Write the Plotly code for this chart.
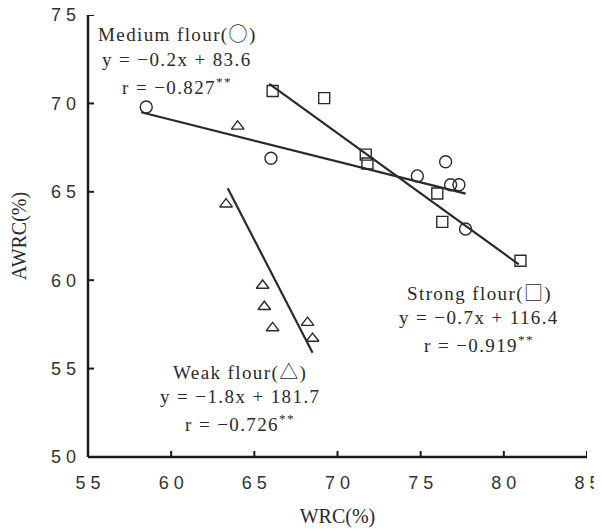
import plotly.graph_objects as go

# Medium flour (circles)
medium_x = [58.5, 66.0, 76.5, 74.8, 76.8, 77.3, 77.7]
medium_y = [69.8, 66.9, 66.7, 65.9, 65.4, 65.4, 62.9]
medium_fit_x = [58.2, 77.7]
medium_fit_y = [69.5, 64.9]

# Strong flour (squares)
strong_x = [66.1, 69.2, 71.7, 71.8, 76.0, 76.3, 81.0]
strong_y = [70.7, 70.3, 67.1, 66.6, 64.9, 63.3, 61.1]
strong_fit_x = [65.9, 80.9]
strong_fit_y = [71.1, 60.9]

# Weak flour (triangles)
weak_x = [64.0, 63.3, 65.5, 65.6, 66.1, 68.2, 68.5]
weak_y = [68.7, 64.3, 59.7, 58.5, 57.3, 57.6, 56.7]
weak_fit_x = [63.4, 68.5]
weak_fit_y = [65.2, 55.9]

x_ticks = [55, 60, 65, 70, 75, 80, 85]
y_ticks = [50, 55, 60, 65, 70, 75]

SYM = "<span style='font-family:Noto Sans CJK SC'>{}</span>"
medium_text = ["Medium flour(" + SYM.format("○") + ")", "y = −0.2x + 83.6", "r = −0.827<sup>**</sup>"]
strong_text = ["Strong flour(" + SYM.format("□") + ")", "y = −0.7x + 116.4", "r = −0.919<sup>**</sup>"]
weak_text = ["Weak flour(" + SYM.format("△") + ")", "y = −1.8x + 181.7", "r = −0.726<sup>**</sup>"]

INK = "#2a2a2a"
AX = "#1a1a1a"
fig = go.Figure()

def add_group(xs, ys, fx, fy, symbol, size):
    fig.add_trace(go.Scatter(x=fx, y=fy, mode="lines",
                             line=dict(color=INK, width=2.2), showlegend=False))
    fig.add_trace(go.Scatter(x=xs, y=ys, mode="markers",
                             marker=dict(symbol=symbol, size=size, color=INK,
                                         line=dict(color=INK, width=1.4)),
                             showlegend=False))

add_group(medium_x, medium_y, medium_fit_x, medium_fit_y, "circle-open", 12)
add_group(strong_x, strong_y, strong_fit_x, strong_fit_y, "square-open", 11)
add_group(weak_x, weak_y, weak_fit_x, weak_fit_y, "triangle-up-open", 11)

# plot area in page pixels: x 88..587, y 15..457
PW, PH = 587 - 88, 457 - 15
def text_block(lines, cx_px, top_px):
    for i, t in enumerate(lines):
        fig.add_annotation(x=(cx_px - 88) / PW, y=(457 - (top_px + i * 26.3)) / PH,
                           xref="paper", yref="paper",
                           text="<span style='letter-spacing:1.4px'>" + t + "</span>",
                           showarrow=False, xanchor="center", yanchor="middle",
                           font=dict(family="Liberation Serif", size=19, color=INK))

text_block(medium_text, 177, 33)
text_block(strong_text, 479, 291)
text_block(weak_text, 240, 370)

# axis lines and inward ticks
fig.add_shape(type="line", xref="paper", yref="paper", x0=0, x1=1, y0=0, y1=0,
              line=dict(color=AX, width=2.5))
fig.add_shape(type="line", xref="paper", yref="paper", x0=0, x1=0, y0=0, y1=1,
              line=dict(color=AX, width=2.5))
TL = 6
for v in x_ticks:
    fig.add_shape(type="line", xref="x", yref="paper", x0=v, x1=v, y0=0, y1=TL / PH,
                  line=dict(color=AX, width=2))
for v in y_ticks:
    fig.add_shape(type="line", xref="paper", yref="y", x0=0, x1=TL / PW, y0=v, y1=v,
                  line=dict(color=AX, width=2))

axis_common = dict(showgrid=False, zeroline=False, showline=False, ticks="",
                   automargin=False, ticklabeloverflow="allow",
                   tickfont=dict(family="Liberation Sans", size=18, color="#333"))

fig.update_xaxes(range=[55, 85], tickvals=x_ticks,
                 ticktext=[" ".join(str(v)) for v in x_ticks],
                 ticklabelstandoff=13,
                 title=dict(text="WRC(%)", standoff=16,
                            font=dict(family="Liberation Serif", size=20, color=INK)),
                 **axis_common)
fig.update_yaxes(range=[50, 75], tickvals=y_ticks,
                 ticktext=[" ".join(str(v)) for v in y_ticks],
                 ticklabelstandoff=11,
                 title=dict(text="AWRC(%)", standoff=26,
                            font=dict(family="Liberation Serif", size=20, color=INK)),
                 **axis_common)

# page body has an 8px default margin, so the figure is offset by 8px
fig.update_layout(width=594, height=523, margin=dict(l=80, r=15, t=7, b=74),
                  plot_bgcolor="white", paper_bgcolor="white")

fig.write_html("out.html")
